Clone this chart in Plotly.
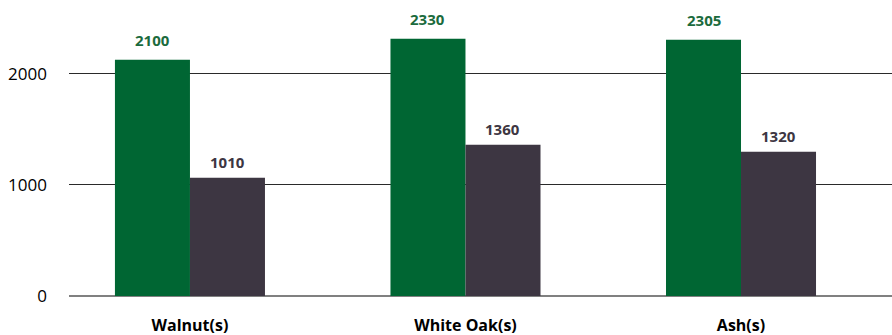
import plotly.graph_objects as go

categories = ["Walnut(s)", "White Oak(s)", "Ash(s)"]
green_values = [2125, 2315, 2305]
dark_values = [1063, 1360, 1297]
green_labels = ["2100", "2330", "2305"]
dark_labels = ["1010", "1360", "1320"]
y_ticks = [0, 1000, 2000]

GREEN = "#006633"
DARK = "#3d3642"
GREEN_TXT = "#1b6b3d"
DARK_TXT = "#3d3642"
FONT = "Open Sans"

fig = go.Figure()
fig.add_trace(go.Bar(x=categories, y=green_values, marker=dict(color=GREEN, line=dict(width=0)),
                     hoverinfo="skip"))
fig.add_trace(go.Bar(x=categories, y=dark_values, marker=dict(color=DARK, line=dict(width=0)),
                     hoverinfo="skip"))

annotations = []
for c, v, t in zip(categories, green_values, green_labels):
    annotations.append(dict(x=c, y=v, text=t, showarrow=False, xshift=-37.5, yshift=20,
                            font=dict(family=FONT, size=15, color=GREEN_TXT, weight="bold")))
for c, v, t in zip(categories, dark_values, dark_labels):
    annotations.append(dict(x=c, y=v, text=t, showarrow=False, xshift=37.5, yshift=16,
                            font=dict(family=FONT, size=15, color=DARK_TXT, weight="bold")))

fig.update_layout(
    width=892, height=335,
    margin=dict(l=69, r=0, t=7, b=39),
    paper_bgcolor="white", plot_bgcolor="white",
    showlegend=False,
    barmode="group", bargap=0.4555, bargroupgap=0,
    annotations=annotations,
    xaxis=dict(range=[-0.439, 2.548], showgrid=False, zeroline=False, showline=False,
               ticks="", ticklabelstandoff=18,
               tickfont=dict(family=FONT, size=16, color="#000000", weight="bold")),
    yaxis=dict(range=[0, 2600], tickvals=y_ticks, ticktext=[str(v) for v in y_ticks],
               showgrid=True, gridcolor="#2a2a2a", gridwidth=1,
               zeroline=True, zerolinecolor="#808080", zerolinewidth=2,
               showline=False, ticks="", ticklabelstandoff=21,
               tickfont=dict(family=FONT, size=17, color="#000000")),
)

fig.write_html("out.html")
